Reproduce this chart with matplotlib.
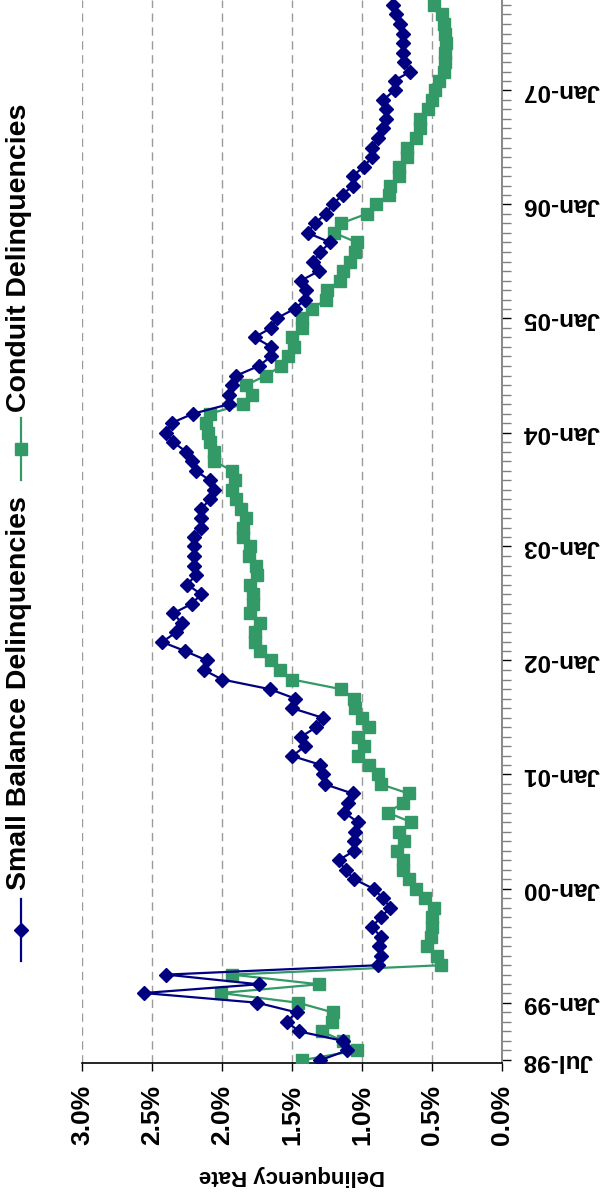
import numpy as np
import pandas as pd
import matplotlib
matplotlib.use("Agg")
import matplotlib.pyplot as plt
import matplotlib.dates as mdates
from matplotlib.lines import Line2D
from matplotlib.ticker import FuncFormatter, FixedLocator

plt.rcParams['font.family'] = ['Liberation Sans', 'DejaVu Sans']
plt.rcParams['font.weight'] = 'bold'

# monthly data, Jul-98 onwards (values in %)
months = pd.date_range('1998-07-01', periods=112, freq='MS')

small_balance = [
    1.30, 1.11, 1.14, 1.45, 1.54, 1.47, 1.75, 2.56, 1.74, 2.40,
    0.89, 0.87, 0.88, 0.87, 0.93, 0.87, 0.80, 0.85, 0.92, 1.06,
    1.12, 1.17, 1.06, 1.06, 1.05, 1.03, 1.13, 1.10, 1.07, 1.27,
    1.28, 1.30, 1.50, 1.41, 1.44, 1.33, 1.28, 1.50, 1.48, 1.66,
    2.00, 2.13, 2.11, 2.27, 2.43, 2.33, 2.29, 2.35, 2.22, 2.15,
    2.25, 2.19, 2.20, 2.20, 2.20, 2.20, 2.15, 2.15, 2.15, 2.09,
    2.06, 2.09, 2.19, 2.22, 2.26, 2.35, 2.40, 2.36, 2.21, 1.95,
    1.95, 1.93, 1.90, 1.74, 1.65, 1.65, 1.77, 1.65, 1.61, 1.48,
    1.41, 1.40, 1.44, 1.31, 1.35, 1.30, 1.23, 1.39, 1.34, 1.26,
    1.21, 1.14, 1.07, 1.07, 0.99, 0.93, 0.93, 0.89, 0.85, 0.83,
    0.83, 0.85, 0.77, 0.77, 0.66, 0.70, 0.71, 0.71, 0.71, 0.73,
    0.76, 0.78,
]

conduit = [
    1.43, 1.04, 1.14, 1.29, 1.22, 1.21, 1.46, 2.01, 1.31, 1.93,
    0.44, 0.47, 0.54, 0.51, 0.50, 0.50, 0.49, 0.55, 0.62, 0.67,
    0.71, 0.71, 0.75, 0.70, 0.74, 0.65, 0.82, 0.71, 0.67, 0.87,
    0.89, 0.95, 1.03, 0.99, 1.03, 0.95, 1.00, 1.05, 1.06, 1.15,
    1.50, 1.59, 1.65, 1.73, 1.77, 1.77, 1.73, 1.80, 1.78, 1.78,
    1.80, 1.75, 1.76, 1.81, 1.80, 1.85, 1.85, 1.83, 1.87, 1.90,
    1.93, 1.91, 1.93, 2.06, 2.06, 2.09, 2.10, 2.12, 2.09, 1.85,
    1.79, 1.83, 1.69, 1.58, 1.53, 1.49, 1.50, 1.43, 1.43, 1.36,
    1.26, 1.25, 1.16, 1.14, 1.09, 1.05, 1.04, 1.20, 1.15, 0.97,
    0.90, 0.81, 0.80, 0.74, 0.74, 0.68, 0.68, 0.62, 0.59, 0.59,
    0.53, 0.50, 0.48, 0.45, 0.42, 0.41, 0.41, 0.40, 0.41, 0.42,
    0.43, 0.49,
]

rate_ticks = [0.0, 0.5, 1.0, 1.5, 2.0, 2.5, 3.0]
date_ticks = pd.to_datetime(['1998-07-01'] + ['%d-01-01' % y for y in range(1999, 2008)])

navy = '#000080'
green = '#339966'

fig = plt.figure(figsize=(6.01, 12.0), dpi=100)
ax = fig.add_axes([82.3 / 601, 1 - 1063.3 / 1200, 420 / 601, 1063.3 / 1200])

ax.plot(small_balance, months, color=navy, lw=1.6, marker='D', ms=6.9,
        mfc=navy, mec=navy, zorder=4)
ax.plot(conduit, months, color=green, lw=1.6, marker='s', ms=8.8,
        mfc=green, mec=green, zorder=3)

ax.set_xlim(3.0, 0.0)
ax.set_ylim(pd.Timestamp('1998-06-21'), pd.Timestamp('2007-10-17'))

# rate axis (bottom)
ax.xaxis.set_major_locator(FixedLocator(rate_ticks))
ax.xaxis.set_major_formatter(FuncFormatter(lambda v, p: '%.1f%%' % v))
ax.tick_params(axis='x', direction='out', length=5.8, width=1, color='black',
               labelsize=19, pad=10, labelrotation=90)
ax.xaxis.grid(True, color='#9a9a9a', lw=1, linestyle=(0, (6, 4)))
ax.set_xlabel('Delinquency Rate', fontsize=16, fontweight='bold',
              rotation=180, labelpad=14)

# date axis (right side)
ax.yaxis.tick_right()
ax.yaxis.set_major_locator(FixedLocator(mdates.date2num(date_ticks)))
ax.yaxis.set_minor_locator(mdates.MonthLocator())
ax.yaxis.set_major_formatter(mdates.DateFormatter('%b-%y'))
ax.tick_params(axis='y', which='major', direction='out', length=6.5, width=1,
               color='black', labelsize=17.5, pad=8, labelrotation=180)
ax.tick_params(axis='y', which='minor', direction='out', length=6.5, width=1,
               color='#808080')
for lbl in ax.get_yticklabels():
    lbl.set_va('center')

ax.spines['left'].set_visible(False)
ax.spines['top'].set_visible(False)
ax.spines['right'].set_color('#808080')
ax.spines['right'].set_linewidth(1.3)
ax.spines['bottom'].set_color('black')
ax.spines['bottom'].set_linewidth(1.2)

# legend, drawn sideways on the left
def legend_entry(y_mid, color, marker, ms, label, text_start):
    fx = 21 / 601
    fig.add_artist(Line2D([fx, fx], [1 - (y_mid - 31) / 1200, 1 - (y_mid + 31) / 1200],
                          transform=fig.transFigure, color=color, lw=1.6))
    fig.add_artist(Line2D([fx], [1 - y_mid / 1200], transform=fig.transFigure,
                          marker=marker, ms=ms, color=color, mfc=color, mec=color))
    fig.text(19 / 601, 1 - text_start / 1200, label, rotation=90, ha='center',
             va='bottom', fontsize=20.5, fontweight='bold')

legend_entry(930, navy, 'D', 6.9, 'Small Balance Delinquencies', 890)
legend_entry(449, green, 's', 8.8, 'Conduit Delinquencies', 412)

fig.savefig('out.png', dpi=100)
